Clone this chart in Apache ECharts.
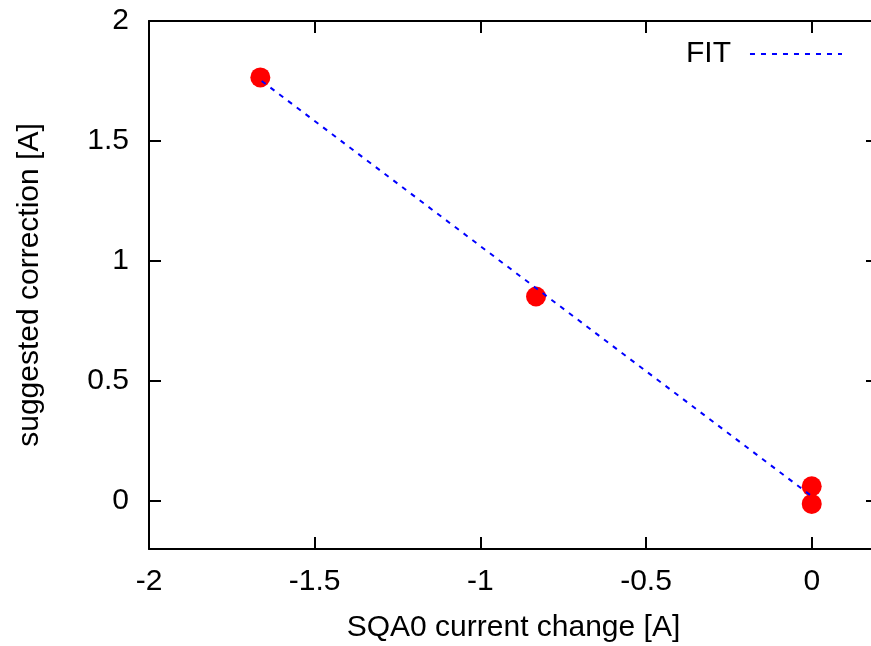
<!DOCTYPE html>
<html>
<head>
<meta charset="utf-8">
<script src="https://cdn.jsdelivr.net/npm/echarts@6/dist/echarts.min.js"></script>
<style>
html,body{margin:0;padding:0;background:#fff;}
#chart{width:871px;height:646px;}
</style>
</head>
<body>
<div id="chart"></div>
<script>
// Data
var pointX = [-1.664, -0.832, 0, 0];
var pointY = [1.765, 0.852, 0.061, -0.012];
var fitX = [-1.66, 0];
var fitY = [1.75, 0.02];
var xTicks = [-2, -1.5, -1, -0.5, 0];
var yTicks = [0, 0.5, 1, 1.5, 2];
var xTitle = 'SQA0 current change [A]';
var yTitle = 'suggested correction [A]';
var fitName = 'FIT';

var FONT = '"Liberation Sans", Arial, sans-serif';
var FS = 30;

function zip(a, b) { return a.map(function (v, i) { return [v, b[i]]; }); }
function fmt(v) { return String(v); }

var chart = echarts.init(document.getElementById('chart'), null, {renderer: 'canvas'});
var axisLine = {show: true, onZero: false, lineStyle: {color: '#000', width: 2}};
var tick = {show: true, inside: true, length: 12, lineStyle: {color: '#000', width: 2}};

chart.setOption({
  animation: false,
  backgroundColor: '#fff',
  textStyle: {fontFamily: FONT},
  grid: {left: 149, top: 21, width: 729, height: 528, containLabel: false, outerBoundsMode: 'none'},
  legend: {
    left: 681, top: 34, align: 'right',
    itemWidth: 92, itemHeight: 14,
    data: [fitName],
    itemStyle: {opacity: 0},
    textStyle: {fontFamily: FONT, fontSize: FS, color: '#000', padding: [0, 14, 0, 0]}
  },
  xAxis: [{
    type: 'value', min: -2, max: 0.2, position: 'bottom',
    axisLine: axisLine,
    axisTick: Object.assign({customValues: xTicks}, tick),
    axisLabel: {customValues: xTicks, formatter: fmt, fontFamily: FONT, fontSize: FS, color: '#000', margin: 18},
    splitLine: {show: false},
    name: xTitle, nameLocation: 'middle', nameGap: 64,
    nameTextStyle: {fontFamily: FONT, fontSize: FS, color: '#000'}
  }, {
    type: 'value', min: -2, max: 0.2, position: 'top',
    axisLine: axisLine,
    axisTick: Object.assign({customValues: xTicks}, tick),
    axisLabel: {show: false},
    splitLine: {show: false}
  }],
  yAxis: [{
    type: 'value', min: -0.2, max: 2, position: 'left',
    axisLine: axisLine,
    axisTick: Object.assign({customValues: yTicks}, tick),
    axisLabel: {customValues: yTicks, formatter: fmt, fontFamily: FONT, fontSize: FS, color: '#000', margin: 20},
    splitLine: {show: false},
    name: yTitle, nameLocation: 'middle', nameGap: 104, nameRotate: 90,
    nameTextStyle: {fontFamily: FONT, fontSize: FS, color: '#000'}
  }, {
    type: 'value', min: -0.2, max: 2, position: 'right',
    axisLine: axisLine,
    axisTick: Object.assign({customValues: yTicks}, tick),
    axisLabel: {show: false},
    splitLine: {show: false}
  }],
  series: [{
    name: 'points', type: 'scatter', xAxisIndex: 0, yAxisIndex: 0,
    data: zip(pointX, pointY), symbol: 'circle', symbolSize: 20,
    itemStyle: {color: '#ff0000', opacity: 1}, z: 2
  }, {
    name: fitName, type: 'line', xAxisIndex: 0, yAxisIndex: 0,
    data: zip(fitX, fitY), symbol: 'none', showSymbol: false,
    lineStyle: {color: '#0000ff', width: 2, type: [5, 6]},
    itemStyle: {color: '#0000ff'}, z: 3
  }]
});
</script>
</body>
</html>
